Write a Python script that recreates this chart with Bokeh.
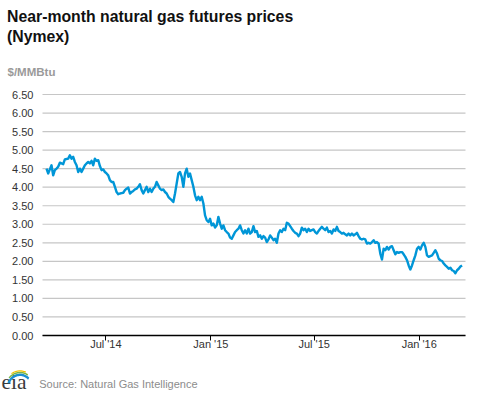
import numpy as np
import pandas as pd
from bokeh.plotting import figure
from bokeh.models import (Range1d, FixedTicker, DatetimeTickFormatter, NumeralTickFormatter,
                          Label, PolyAnnotation, ColumnDataSource)
from bokeh.embed import file_html
from bokeh.resources import INLINE

# ---------------- data ----------------
title_line1 = "Near-month natural gas futures prices"
title_line2 = "(Nymex)"
unit_label = "$/MMBtu"
source_label = "Source: Natural Gas Intelligence"
logo_text = "eia"

series_start = "2014-03-19"
series_end = "2016-03-16"

prices_2014 = [
    4.50, 4.37, 4.48, 4.59, 4.32, 4.46, 4.50, 4.55, 4.66, 4.64, 4.62, 4.75, 4.76, 4.77, 4.86,
    4.77, 4.82, 4.68, 4.59, 4.41, 4.50, 4.41, 4.50, 4.59, 4.64, 4.68, 4.64, 4.71, 4.59, 4.77,
    4.71, 4.73, 4.57, 4.46, 4.48, 4.41, 4.37, 4.32, 4.19, 4.14, 4.14, 4.01, 3.87, 3.81, 3.83,
    3.84, 3.85, 3.92, 3.96, 3.99, 3.83, 3.87, 3.90, 3.94, 3.96, 4.01, 4.08, 3.92, 3.83, 3.92,
    4.01, 3.87, 3.96, 3.87, 3.96, 4.01, 4.14, 4.05, 3.96, 3.92, 3.94, 3.87, 3.83, 3.74, 3.69,
    3.65, 3.60, 3.83, 4.10, 4.37, 4.41, 4.28, 4.01, 4.37, 4.50, 4.28, 4.37, 4.19, 4.01, 3.78,
    3.65, 3.74, 3.65, 3.74, 3.56, 3.24, 3.11, 3.06, 3.15, 2.97, 3.02, 2.91, 2.97, 3.20, 3.02,
    2.88, 2.97, 2.84, 2.79, 2.75, 2.64, 2.61, 2.70, 2.79, 2.84, 2.88,
]
prices_2015_16 = [
    2.97, 2.84, 2.75, 2.84, 2.75, 2.88, 2.75, 2.79, 2.95, 2.79, 2.82, 2.66, 2.70, 2.61, 2.68,
    2.64, 2.52, 2.59, 2.70, 2.64, 2.57, 2.61, 2.50, 2.75, 2.84, 2.79, 2.88, 2.84, 3.04, 3.02,
    2.95, 2.88, 2.82, 2.77, 2.75, 2.68, 2.75, 2.91, 2.84, 2.88, 2.79, 2.88, 2.82, 2.84, 2.86,
    2.79, 2.75, 2.82, 2.88, 2.93, 2.88, 2.84, 2.91, 2.79, 2.82, 2.75, 2.86, 2.82, 2.93, 2.82,
    2.79, 2.75, 2.77, 2.73, 2.70, 2.75, 2.70, 2.75, 2.70, 2.73, 2.77, 2.68, 2.61, 2.59, 2.61,
    2.59, 2.48, 2.50, 2.48, 2.52, 2.57, 2.50, 2.52, 2.48, 2.21, 2.05, 2.34, 2.30, 2.39, 2.32,
    2.39, 2.41, 2.30, 2.19, 2.25, 2.23, 2.25, 2.25, 2.19, 2.12, 2.03, 1.89, 1.78, 1.89, 2.03,
    2.16, 2.34, 2.39, 2.32, 2.43, 2.50, 2.39, 2.16, 2.12, 2.14, 2.16, 2.23, 2.30, 2.21, 2.07,
    2.03, 2.01, 1.94, 1.89, 1.85, 1.80, 1.83, 1.76, 1.74, 1.68, 1.76, 1.80, 1.86, 1.89,
]
prices = prices_2014 + prices_2015_16

x_start, x_end = "2014-03-12", "2016-03-22"
y_ticks = [0.0, 0.5, 1.0, 1.5, 2.0, 2.5, 3.0, 3.5, 4.0, 4.5, 5.0, 5.5, 6.0, 6.5]
x_tick_dates = ["2014-07-01", "2015-01-01", "2015-07-01", "2016-01-01"]

# ---------------- layout constants (pixels) ----------------
W, H = 477, 393
PLOT_L, PLOT_R, PLOT_T, PLOT_B = 42, 465, 94, 335   # data area inside the canvas
FONT = "Liberation Sans"

ms = lambda d: pd.Timestamp(d).value / 1e6
x0, x1 = ms(x_start), ms(x_end)
y0, y1 = y_ticks[0], y_ticks[-1]
ppx = (x1 - x0) / (PLOT_R - PLOT_L)          # ms per pixel
ppy = (y1 - y0) / (PLOT_B - PLOT_T)          # value per pixel
xr = Range1d(x0 - PLOT_L * ppx, x1 + (W - PLOT_R) * ppx)
yr = Range1d(y0 - (H - PLOT_B) * ppy, y1 + PLOT_T * ppy)

# ---------------- figure ----------------
dates = pd.date_range(series_start, series_end, periods=len(prices))
src = ColumnDataSource(data=dict(date=dates, price=prices))

p = figure(width=W, height=H, output_backend="svg", toolbar_location=None,
           x_axis_type="datetime", title=None, x_range=xr, y_range=yr,
           min_border=0, min_border_left=0, min_border_right=0,
           min_border_top=0, min_border_bottom=0)
p.outline_line_color = None
p.background_fill_color = "white"
p.border_fill_color = "white"
p.xgrid.visible = False
p.ygrid.visible = False

# horizontal gridlines at the y ticks, spanning the data period
p.segment(x0=[x0] * len(y_ticks), x1=[x1] * len(y_ticks), y0=y_ticks, y1=y_ticks,
          line_color="#c6c6c6", line_width=1.2)

p.line("date", "price", source=src, line_color="#0096D7", line_width=2.4,
       line_join="round")

# y axis (pinned at the left edge of the data period)
ya = p.yaxis[0]
ya.fixed_location = x0
ya.bounds = (y0, y1)
ya.ticker = FixedTicker(ticks=y_ticks)
ya.formatter = NumeralTickFormatter(format="0.00")
ya.axis_line_color = None
ya.major_tick_line_color = None
ya.minor_tick_line_color = None
ya.major_tick_out = 0
ya.major_tick_in = 0
ya.major_label_standoff = 9
ya.major_label_text_font = FONT
ya.major_label_text_font_size = "11px"
ya.major_label_text_color = "#333333"

# x axis (pinned at zero)
xa = p.xaxis[0]
xa.fixed_location = 0
xa.bounds = (x0, x1)
xa.ticker = FixedTicker(ticks=[ms(d) for d in x_tick_dates])
fmt = "%b '%y"
xa.formatter = DatetimeTickFormatter(months=fmt, days=fmt, years=fmt, hours=fmt)
xa.axis_line_color = "black"
xa.axis_line_width = 1.5
xa.major_tick_line_color = "black"
xa.major_tick_out = 5
xa.major_tick_in = 0
xa.minor_tick_line_color = None
xa.major_label_standoff = -3
xa.major_label_text_font = FONT
xa.major_label_text_font_size = "11px"
xa.major_label_text_color = "#333333"

# ---------------- texts (page pixel positions of text centres -> screen units) --------
def add_label(text, px, center_py, size, color, style="normal", font=FONT):
    p.add_layout(Label(x=px, y=H - center_py, x_units="screen", y_units="screen",
                       text=text, text_font=font, text_font_size=size,
                       text_font_style=style, text_color=color,
                       text_baseline="middle", text_align="left"))

add_label(title_line1, 6.5, 16.2, "15.8px", "#111111", "bold")
add_label(title_line2, 6.5, 36.2, "15.8px", "#111111", "bold")
add_label(unit_label, 7.0, 71.7, "11.5px", "#9a9a9a", "bold")
add_label(source_label, 38.7, 383.2, "11px", "#8c8c8c")
add_label(logo_text, 1.0, 381.5, "21.5px", "#3a3a3a", font="Liberation Serif")

# logo swoosh (decoration)
def band(cx, cy, rx0, rx1, ry0, ry1, a0, a1, color):
    t = np.radians(np.linspace(a0, a1, 24))
    xs = list(cx + rx1 * np.cos(t)) + list(cx + rx0 * np.cos(t[::-1]))
    ys_page = list(cy - ry1 * np.sin(t)) + list(cy - ry0 * np.sin(t[::-1]))
    ys = [H - v for v in ys_page]
    p.add_layout(PolyAnnotation(xs=xs, ys=ys, xs_units="screen", ys_units="screen",
                                fill_color=color, fill_alpha=1.0, line_color=None))

band(19.5, 391.0, 12.5, 14.5, 15.5, 18.0, 150, 50, "#1b8fd2")
band(19.5, 391.0, 14.8, 16.2, 18.3, 19.8, 135, 60, "#7ab648")
band(19.5, 391.0, 16.4, 17.6, 20.0, 21.2, 120, 70, "#f2c300")

open("out.html", "w").write(file_html(p, INLINE))
